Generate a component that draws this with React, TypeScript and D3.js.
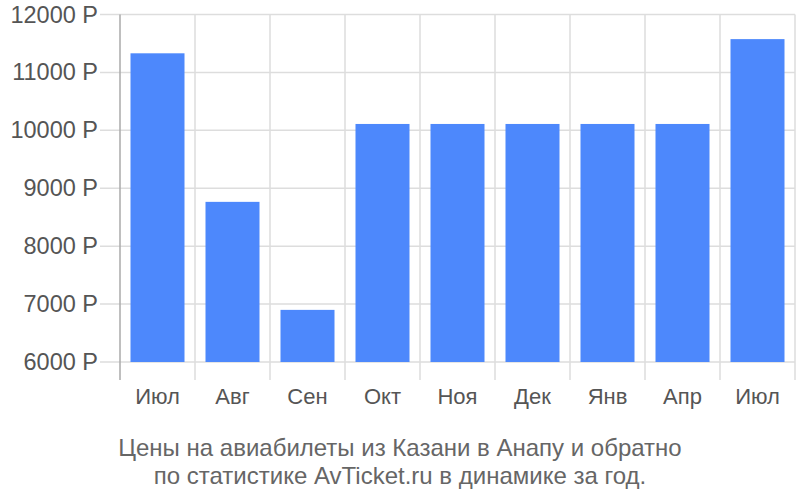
import { useRef, useEffect } from 'react';
import * as d3 from 'd3';

const months = ['Июл', 'Авг', 'Сен', 'Окт', 'Ноя', 'Дек', 'Янв', 'Апр', 'Июл'];
const prices = [11330, 8765, 6900, 10110, 10110, 10110, 10110, 10110, 11575];
const yTicks = [6000, 7000, 8000, 9000, 10000, 11000, 12000];
const captionLines = [
    'Цены на авиабилеты из Казани в Анапу и обратно',
    'по статистике AvTicket.ru в динамике за год.',
];

export default function App() {
    const svgRef = useRef<SVGSVGElement>(null);

    useEffect(() => {
        if (!svgRef.current) return;
        const svg = d3.select(svgRef.current);
        svg.selectAll('*').remove();

        const margin = { top: 14.5, left: 120, right: 5 };
        const innerW = 800 - margin.left - margin.right;
        const plotBottom = 362;
        const font = '"Liberation Sans", Arial, sans-serif';

        const x = d3.scaleBand<number>()
            .domain(months.map((_, i) => i))
            .range([margin.left, margin.left + innerW])
            .paddingInner(0.28)
            .paddingOuter(0.14);
        const step = x.step();
        const y = d3.scaleLinear().domain([6000, 12000]).range([plotBottom, margin.top]);

        // horizontal grid
        svg.append('g').selectAll('line')
            .data(yTicks)
            .enter().append('line')
            .attr('x1', 100)
            .attr('x2', margin.left + innerW)
            .attr('y1', d => y(d))
            .attr('y2', d => y(d))
            .attr('stroke', '#dddddd')
            .attr('stroke-width', 1.5);

        // vertical grid at category boundaries
        const bounds = d3.range(months.length + 1).map(i => margin.left + i * step);
        svg.append('g').selectAll('line')
            .data(bounds)
            .enter().append('line')
            .attr('x1', d => d)
            .attr('x2', d => d)
            .attr('y1', margin.top)
            .attr('y2', plotBottom + 18)
            .attr('stroke', (_, i) => i === 0 ? '#aaaaaa' : '#dddddd')
            .attr('stroke-width', 1.5);

        // bars
        svg.append('g').selectAll('rect')
            .data(prices)
            .enter().append('rect')
            .attr('x', (_, i) => x(i)!)
            .attr('width', x.bandwidth())
            .attr('y', d => y(d))
            .attr('height', d => plotBottom - y(d))
            .attr('fill', '#4d88fc');

        // y labels
        svg.append('g').selectAll('text')
            .data(yTicks)
            .enter().append('text')
            .attr('x', 98)
            .attr('y', d => y(d) + 8)
            .attr('text-anchor', 'end')
            .attr('font-size', '23.5px')
            .attr('font-family', font)
            .attr('fill', '#555555')
            .text(d => `${d} Р`);

        // x labels
        svg.append('g').selectAll('text')
            .data(months)
            .enter().append('text')
            .attr('x', (_, i) => x(i)! + x.bandwidth() / 2)
            .attr('y', 404)
            .attr('text-anchor', 'middle')
            .attr('font-size', '22px')
            .attr('font-family', font)
            .attr('fill', '#555555')
            .text(d => d);

        // caption
        svg.append('g').selectAll('text')
            .data(captionLines)
            .enter().append('text')
            .attr('x', 400)
            .attr('y', (_, i) => 456 + i * 28)
            .attr('text-anchor', 'middle')
            .attr('font-size', '24px')
            .attr('font-family', font)
            .attr('fill', '#666666')
            .text(d => d);
    }, []);

    return (
        <svg
            ref={svgRef}
            width={800}
            height={500}
            style={{ position: 'absolute', left: 0, top: 0, background: '#ffffff' }}
        />
    );
}
